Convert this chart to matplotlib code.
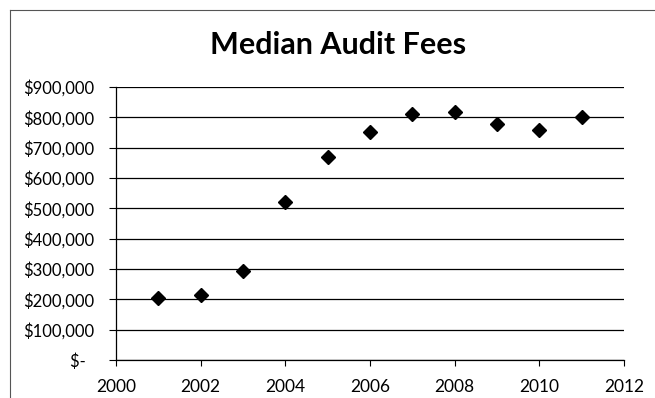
#!/usr/bin/env python3

import matplotlib
matplotlib.use('Agg')
import matplotlib.pyplot as plt
from matplotlib.ticker import FuncFormatter

OUT_NAME = 'out.png'

years = [2001, 2002, 2003, 2004, 2005, 2006, 2007, 2008, 2009, 2010, 2011]
fees = [203000, 215000, 293000, 522000, 670000, 753000, 812000, 819000, 777000, 758000, 801000]
title = 'Median Audit Fees'
x_ticks = [2000, 2002, 2004, 2006, 2008, 2010, 2012]
y_ticks = [0, 100000, 200000, 300000, 400000, 500000, 600000, 700000, 800000, 900000]


def money(v, pos):
    # excel accounting style, zero shown as a dash
    if v == 0:
        return '$-  '
    return '${:,.0f}'.format(v)


def main():
    plt.rcParams['font.family'] = ['Lato', 'DejaVu Sans']
    fig = plt.figure(figsize=(6.55, 3.98), dpi=100)
    fig.patch.set_facecolor('white')

    # frame of the chart box (only top/left visible in the scan)
    fig.add_artist(plt.Line2D([10/655, 10/655], [0, 1 - 10/398], color='#555555', lw=0.8))
    fig.add_artist(plt.Line2D([10/655, 1], [1 - 10/398, 1 - 10/398], color='#555555', lw=0.8))

    ax = fig.add_axes([116/655, 38/398, 508/655, 273/398])
    ax.plot(years, fees, linestyle='none', marker='D', markersize=6.8,
            color='black', zorder=3)

    ax.set_xlim(2000, 2012)
    ax.set_ylim(0, 900000)
    ax.set_xticks(x_ticks)
    ax.set_yticks(y_ticks)
    ax.yaxis.set_major_formatter(FuncFormatter(money))

    ax.grid(axis='y', color='black', linewidth=0.9)
    ax.set_axisbelow(True)
    for s in ['top', 'right']:
        ax.spines[s].set_visible(False)
    for s in ['left', 'bottom']:
        ax.spines[s].set_color('black')
        ax.spines[s].set_linewidth(0.9)

    ax.tick_params(axis='y', direction='out', length=5, width=0.8, labelsize=12, pad=11)
    ax.tick_params(axis='x', direction='out', length=4, width=0.8, labelsize=12.5, pad=10)

    fig.text(338/655, 1 - 45/398, title, ha='center', va='center',
             fontsize=22, fontweight='bold')

    plt.savefig(OUT_NAME, dpi=100)
    print('saved', OUT_NAME)


if __name__ == '__main__':
    main()
